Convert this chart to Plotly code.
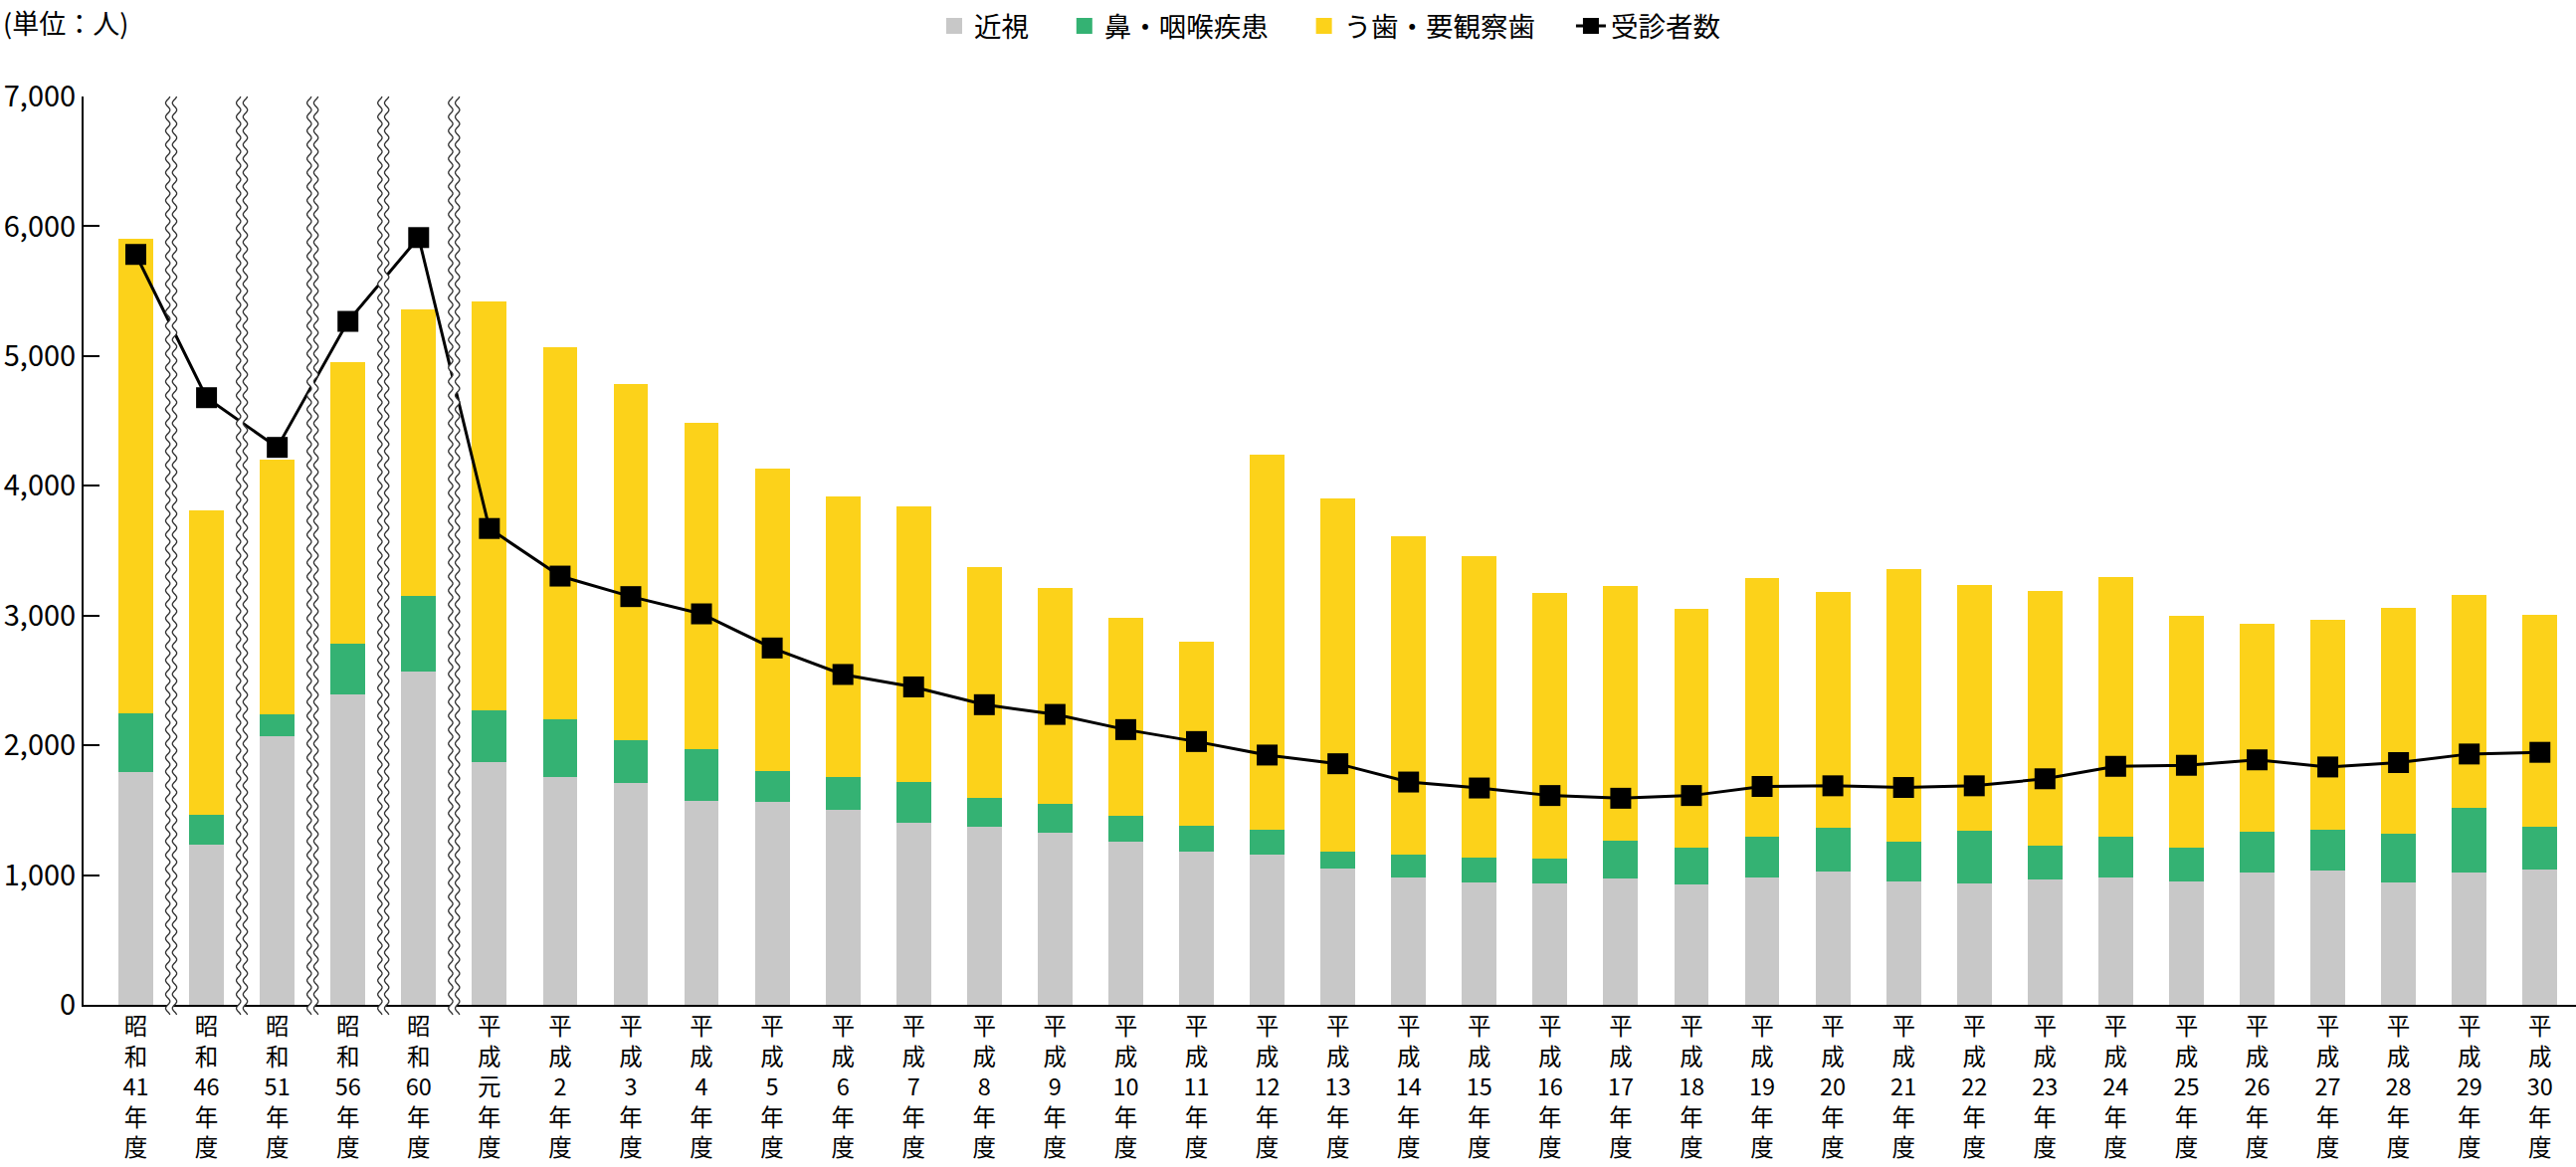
import numpy as np
import plotly.graph_objects as go

# ---------------- data ----------------
categories = ["昭和41年度", "昭和46年度", "昭和51年度", "昭和56年度", "昭和60年度",
              "平成元年度"] + [f"平成{n}年度" for n in range(2, 31)]

myopia = [1792, 1238, 2071, 2392, 2571, 1871, 1754, 1708, 1571, 1563, 1504, 1400,
          1371, 1329, 1254, 1183, 1154, 1054, 983, 946, 933, 971, 929, 983, 1029,
          954, 938, 963, 979, 954, 1017, 1033, 946, 1017, 1046]
nose_throat = [454, 225, 167, 391, 579, 396, 446, 330, 400, 237, 250, 321, 221, 217,
               204, 196, 192, 129, 171, 192, 196, 292, 284, 313, 334, 304, 404, 262,
               313, 254, 316, 313, 371, 500, 329]
caries = [3658, 2350, 1962, 2167, 2213, 3150, 2867, 2745, 2512, 2329, 2163, 2121, 1783,
          1667, 1525, 1417, 2892, 2717, 2459, 2320, 2046, 1966, 1841, 1992, 1816, 2100,
          1896, 1967, 2008, 1788, 1605, 1621, 1746, 1641, 1633]
examinees = [5783, 4679, 4296, 5267, 5913, 3671, 3304, 3146, 3013, 2750, 2546, 2450,
             2313, 2238, 2121, 2029, 1925, 1858, 1717, 1671, 1613, 1592, 1613, 1683,
             1688, 1675, 1688, 1742, 1838, 1846, 1888, 1833, 1867, 1933, 1946]

series_names = ["近視", "鼻・咽喉疾患", "う歯・要観察歯", "受診者数"]
y_ticks = [0, 1000, 2000, 3000, 4000, 5000, 6000, 7000]
n_breaks = 5  # wavy break marks after the first five (Showa) categories

# ---------------- styling ----------------
FONT = "Noto Sans CJK JP"
GREY = "#c8c8c8"
GREEN = "#34b273"
YELLOW = "#fcd21a"

W, H = 2589, 1173
M_L, M_R, M_T, M_B = 84, 0, 97, 163
PLOT_H = H - M_T - M_B
PAD = "\u00a0" * 5


def vertical_label(cat):
    era, rest = cat[:2], cat[2:-2]
    parts = list(era) + [rest] + ["年", "度"]
    return "<br>".join(parts)


tick_text = [vertical_label(c) for c in categories]
x = list(range(len(categories)))

fig = go.Figure()
bar_series = [(myopia, GREY), (nose_throat, GREEN), (caries, YELLOW)]
for (vals, col), name in zip(bar_series, series_names[:3]):
    fig.add_trace(go.Bar(x=x, y=vals, name=name, marker_color=col, width=0.49,
                         marker_line_width=0, showlegend=False))
# legend-only entries with bigger square symbols
for (vals, col), name in zip(bar_series, series_names[:3]):
    fig.add_trace(go.Scatter(x=[None], y=[None], mode="markers", name=name + PAD,
                             marker=dict(symbol="square", size=16, color=col)))
fig.add_trace(go.Scatter(x=x, y=examinees, name=series_names[3], mode="lines+markers",
                         line=dict(color="black", width=3),
                         marker=dict(symbol="square", size=21, color="black")))

# wavy break marks (decorative), positioned between categories
ys_px = np.arange(-10, PLOT_H + 0.5, 1.0)
lam, amp, half = 14.0, 2.2, 3.4
wob = amp * np.sin(2 * np.pi * ys_px / lam)
ys_paper = ys_px / PLOT_H


def path_from(xs, ys, close=False):
    s = "M" + " L".join(f"{a:.2f},{b:.5f}" for a, b in zip(xs, ys))
    return s + (" Z" if close else "")


shapes = []
for i in range(n_breaks):
    xa = i + 0.5
    left = -half + wob
    right = half + wob
    fill_path = path_from(np.concatenate([left, right[::-1]]),
                          np.concatenate([ys_paper, ys_paper[::-1]]), close=True)
    shapes.append(dict(type="path", path=fill_path, xref="x", yref="paper",
                       xsizemode="pixel", xanchor=xa, fillcolor="white",
                       line=dict(width=0), layer="above"))
    for side in (left, right):
        shapes.append(dict(type="path", path=path_from(side, ys_paper), xref="x",
                           yref="paper", xsizemode="pixel", xanchor=xa,
                           fillcolor="rgba(0,0,0,0)",
                           line=dict(color="#333333", width=1.3), layer="above"))

fig.update_layout(
    width=W, height=H,
    margin=dict(l=M_L, r=M_R, t=M_T, b=M_B, pad=0, autoexpand=False),
    barmode="stack",
    plot_bgcolor="white", paper_bgcolor="white",
    font=dict(family=FONT, color="black"),
    showlegend=True,
    legend=dict(orientation="h", x=0.5, xanchor="center", y=1 + 71 / PLOT_H,
                yanchor="middle", traceorder="normal",
                font=dict(size=27.5, family=FONT),
                itemwidth=30, bgcolor="rgba(0,0,0,0)"),
    shapes=shapes,
    annotations=[dict(text="(単位：人)", xref="paper", yref="paper", x=0, y=1,
                      xanchor="left", yanchor="top", xshift=-M_L + 1, yshift=M_T - 1,
                      showarrow=False, font=dict(size=27, family=FONT))],
)

fig.update_xaxes(
    range=[-0.739, 34.51], tickmode="array", tickvals=x, ticktext=tick_text,
    showline=True, linecolor="black", linewidth=2, ticks="", showgrid=False,
    zeroline=False, tickfont=dict(size=23.5, family=FONT), tickangle=0,
    automargin=False,
)
fig.update_yaxes(
    range=[0, 7000], tickmode="array", tickvals=y_ticks,
    ticktext=[f"{v:,}" for v in y_ticks],
    showline=True, linecolor="black", linewidth=2, ticks="inside", ticklen=16,
    tickwidth=2, tickcolor="black", showgrid=False, zeroline=False,
    tickfont=dict(size=29, family=FONT), ticklabelstandoff=0, automargin=False,
)

fig.write_html("out.html")
